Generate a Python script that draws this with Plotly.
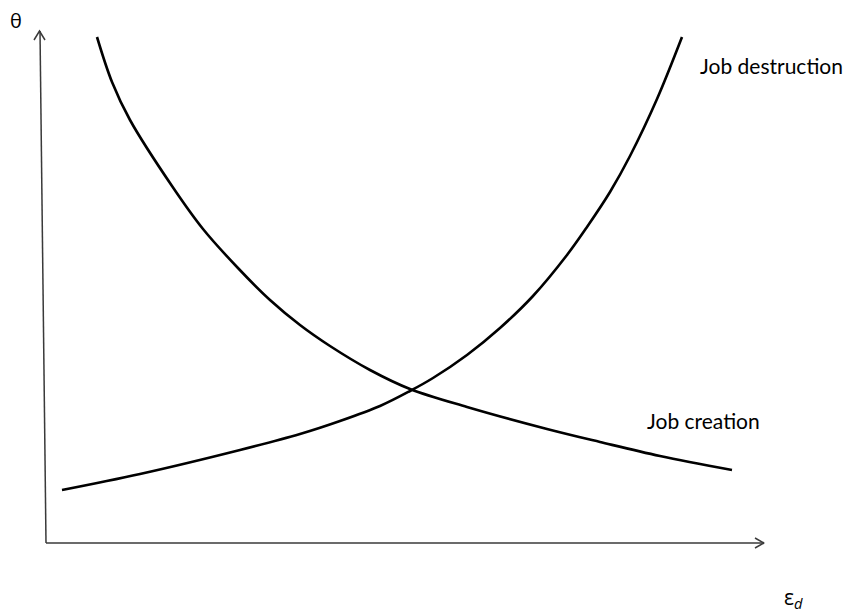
import plotly.graph_objects as go

# Curve data in figure units (x to the right, y downward as in the picture)
creation_x = [97, 112, 130, 172, 203, 237, 270, 300, 330, 370, 410, 467, 547, 600, 660, 732]
creation_y = [37, 82, 120, 186, 229, 267, 300, 325, 346, 370, 389, 407, 429, 442, 456, 470]

destruction_x = [62, 140, 240, 300, 340, 380, 410, 433, 467, 500, 533, 567, 587, 610, 630, 657, 682]
destruction_y = [490, 474, 450, 434, 421, 406, 391, 378, 355, 328, 296, 255, 227, 192, 156, 99, 37]

axis_y_x = [46, 40]
axis_y_y = [543, 31]
axis_x_x = [46, 764]
axis_x_y = [543, 543]

labels = ["Job destruction", "Job creation", "θ", "ε<sub><i>d</i></sub>"]

fig = go.Figure()
axis_color = "#3a3a3a"
fig.add_trace(go.Scatter(x=axis_y_x, y=axis_y_y, mode="lines",
                         line=dict(color=axis_color, width=1.5), hoverinfo="skip"))
fig.add_trace(go.Scatter(x=axis_x_x, y=axis_x_y, mode="lines",
                         line=dict(color=axis_color, width=1.5), hoverinfo="skip"))
# arrow heads
fig.add_trace(go.Scatter(x=[34, 39.5, 45], y=[40, 31, 40], mode="lines",
                         line=dict(color=axis_color, width=1.5), hoverinfo="skip"))
fig.add_trace(go.Scatter(x=[755, 764, 755], y=[538, 543, 548], mode="lines",
                         line=dict(color=axis_color, width=1.5), hoverinfo="skip"))

fig.add_trace(go.Scatter(x=creation_x, y=creation_y, mode="lines",
                         line=dict(color="black", width=2.6, shape="spline", smoothing=1.0),
                         name="Job creation"))
fig.add_trace(go.Scatter(x=destruction_x, y=destruction_y, mode="lines",
                         line=dict(color="black", width=2.6, shape="spline", smoothing=1.0),
                         name="Job destruction"))

font = dict(family="Lato, Open Sans, sans-serif", size=21, color="black")
fig.add_annotation(x=698, y=65, text=labels[0], showarrow=False, xanchor="left", yanchor="middle", font=font)
fig.add_annotation(x=645, y=420, text=labels[1], showarrow=False, xanchor="left", yanchor="middle", font=font)
fig.add_annotation(x=16, y=20, text=labels[2], showarrow=False, xanchor="center", yanchor="middle",
                   font=dict(family="Open Sans, sans-serif", size=20, color="black"))
fig.add_annotation(x=793, y=598, text=labels[3], showarrow=False, xanchor="center", yanchor="middle",
                   font=dict(family="Open Sans, sans-serif", size=21, color="black"))

fig.update_layout(
    width=844, height=604,
    margin=dict(l=0, r=0, t=0, b=0),
    paper_bgcolor="white", plot_bgcolor="white",
    showlegend=False,
    xaxis=dict(range=[8, 852], visible=False, fixedrange=True),
    yaxis=dict(range=[612, 8], visible=False, fixedrange=True),
)
fig.write_html("out.html")
